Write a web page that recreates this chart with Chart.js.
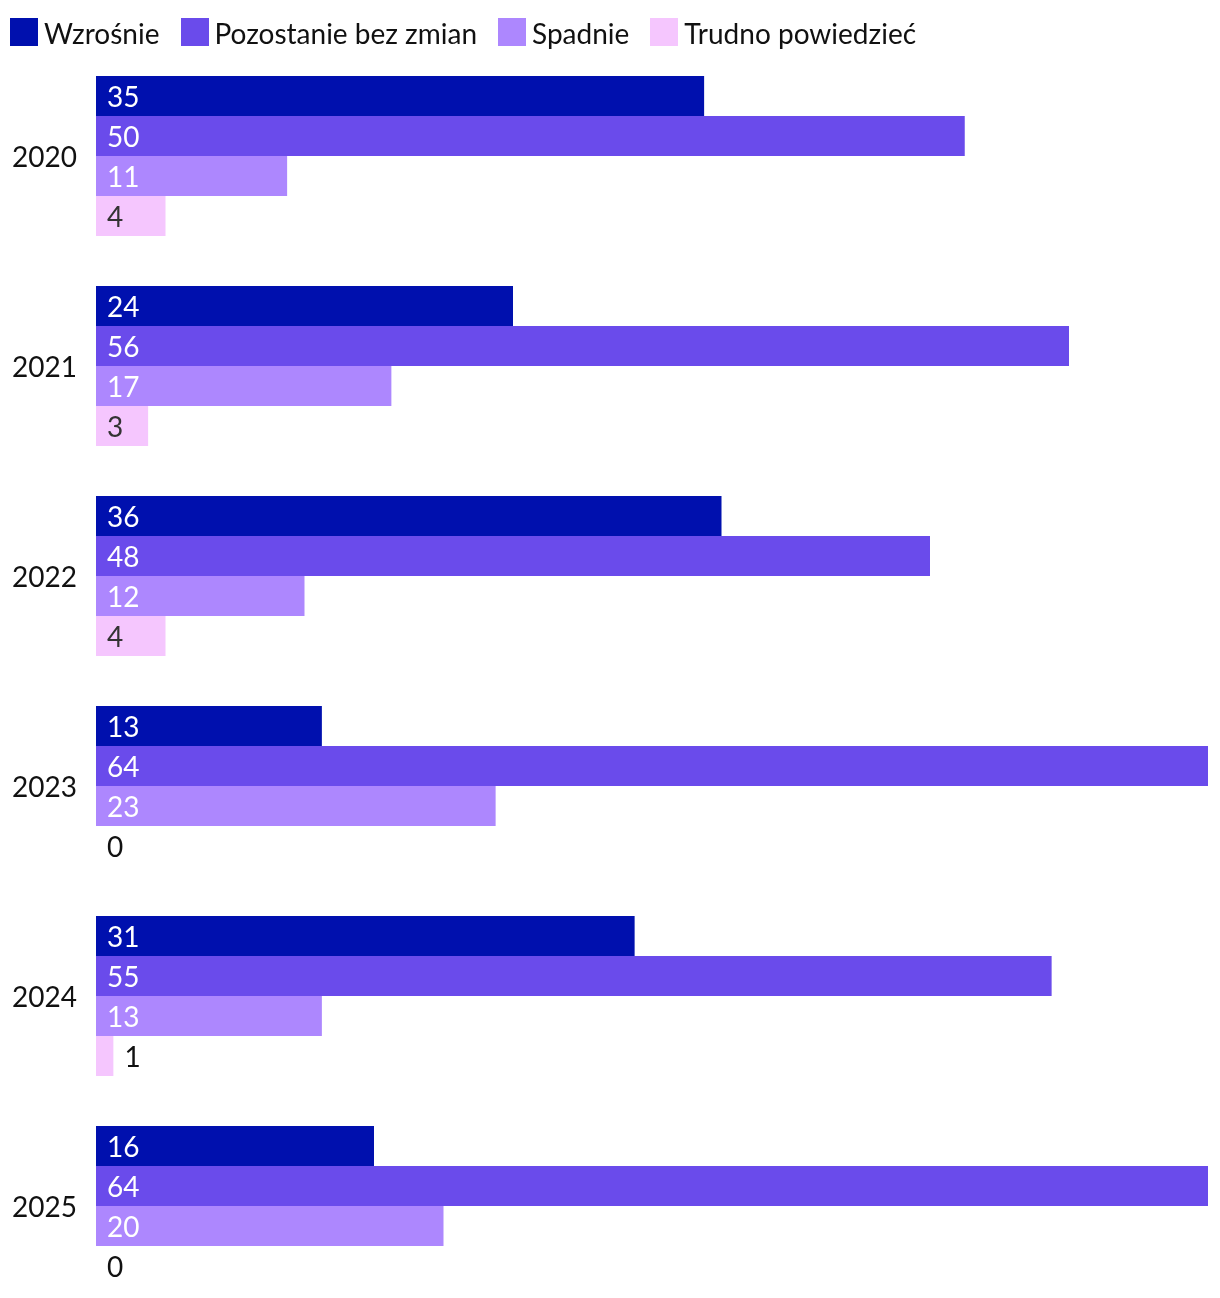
<!DOCTYPE html>
<html>
<head>
<meta charset="utf-8">
<script src="https://cdn.jsdelivr.net/npm/chart.js@4.4.1/dist/chart.umd.min.js"></script>
<style>
  html, body { margin: 0; padding: 0; background: #fff; overflow: hidden; }
  #wrap { position: relative; width: 1220px; height: 1298px; }
  #legend { position: absolute; left: 10px; top: 18px; display: flex; font-family: Lato, sans-serif; font-size: 28px; color: #111; line-height: 28px; }
  .item { display: flex; align-items: center; margin-right: 21px; }
  .item span { position: relative; top: 1px; }
  .box { width: 28px; height: 28px; margin-right: 6px; }
  canvas { position: absolute; left: 0; top: 0; }
</style>
</head>
<body>
<div id="wrap">
  <canvas id="c" width="1220" height="1311"></canvas>
  <div id="legend"></div>
</div>
<script>
const categories = ["2020", "2021", "2022", "2023", "2024", "2025"];
const seriesNames = ["Wzrośnie", "Pozostanie bez zmian", "Spadnie", "Trudno powiedzieć"];
const wzrosnie = [35, 24, 36, 13, 31, 16];
const bezZmian = [50, 56, 48, 64, 55, 64];
const spadnie = [11, 17, 12, 23, 13, 20];
const trudno = [4, 3, 4, 0, 1, 0];
const colors = ["#0010AE", "#6A4BEB", "#AD87FE", "#F5C6FE"];
const labelColors = ["#ffffff", "#ffffff", "#ffffff", "#333333"];

const seriesValues = [wzrosnie, bezZmian, spadnie, trudno];

const legendEl = document.getElementById('legend');
seriesNames.forEach((n, i) => {
  const it = document.createElement('div');
  it.className = 'item';
  const b = document.createElement('div');
  b.className = 'box';
  b.style.background = colors[i];
  const t = document.createElement('span');
  t.textContent = n;
  it.appendChild(b); it.appendChild(t);
  legendEl.appendChild(it);
});

const barLabels = {
  id: 'barLabels',
  afterDatasetsDraw(chart) {
    const ctx = chart.ctx;
    ctx.save();
    ctx.font = '28px Lato, sans-serif';
    ctx.textBaseline = 'middle';
    ctx.textAlign = 'left';
    chart.data.datasets.forEach((ds, di) => {
      const meta = chart.getDatasetMeta(di);
      meta.data.forEach((bar, i) => {
        const v = ds.data[i];
        let x, color;
        if (v <= 1) {
          x = bar.x + 11;
          color = '#111111';
        } else {
          x = bar.base + 11;
          color = labelColors[di];
        }
        ctx.fillStyle = color;
        ctx.fillText(String(v), x, bar.y + 2);
      });
    });
    ctx.restore();
  }
};

new Chart(document.getElementById('c'), {
  type: 'bar',
  data: {
    labels: categories,
    datasets: seriesNames.map((n, i) => ({
      label: n,
      data: seriesValues[i],
      backgroundColor: colors[i],
      borderWidth: 0,
      barPercentage: 1,
      categoryPercentage: 160 / 210
    }))
  },
  options: {
    indexAxis: 'y',
    responsive: false,
    animation: false,
    devicePixelRatio: 1,
    layout: { padding: { top: 51, right: 12, bottom: 0, left: 0 } },
    plugins: { legend: { display: false }, tooltip: { enabled: false } },
    scales: {
      x: { display: false, min: 0, max: 64 },
      y: {
        grid: { display: false, drawTicks: false },
        border: { display: false },
        ticks: { color: '#111', font: { family: 'Lato, sans-serif', size: 28 }, padding: 19, labelOffset: 2 },
        afterFit(scale) { scale.width = 96; scale.paddingTop = 0; scale.paddingBottom = 0; }
      }
    }
  },
  plugins: [barLabels]
});
</script>
</body>
</html>
